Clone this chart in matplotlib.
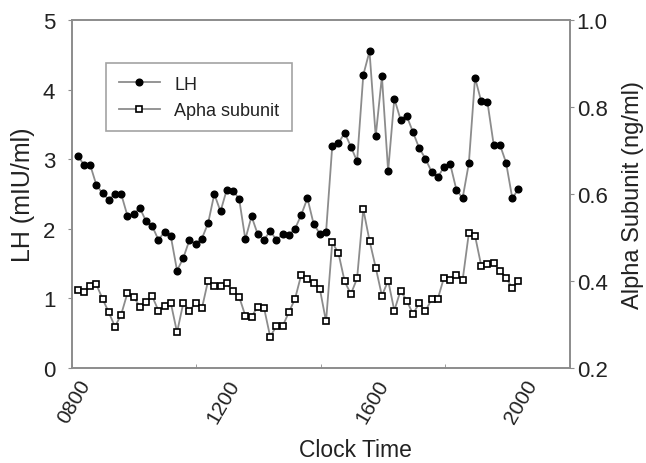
import numpy as np
import matplotlib
matplotlib.use("Agg")
import matplotlib.pyplot as plt

plt.rcParams["font.family"] = ["Liberation Sans", "DejaVu Sans"]

# samples every 10 min starting 0800
n_samples = 72
start_hour = 8.0
step_min = 10

lh = [3.05, 2.92, 2.92, 2.63, 2.51, 2.42, 2.50, 2.50, 2.19, 2.21,
      2.30, 2.11, 2.04, 1.84, 1.96, 1.89, 1.40, 1.58, 1.84, 1.78,
      1.86, 2.08, 2.50, 2.25, 2.56, 2.55, 2.43, 1.85, 2.18, 1.92,
      1.84, 1.97, 1.84, 1.92, 1.91, 2.00, 2.20, 2.44, 2.07, 1.93,
      1.95, 3.19, 3.23, 3.38, 3.18, 2.97, 4.21, 4.55, 3.33, 4.19,
      2.83, 3.87, 3.57, 3.62, 3.39, 3.16, 3.01, 2.82, 2.74, 2.89,
      2.93, 2.56, 2.44, 2.94, 4.17, 3.83, 3.82, 3.21, 3.21, 2.95,
      2.44, 2.57]

alpha = [0.379, 0.374, 0.388, 0.392, 0.359, 0.328, 0.295, 0.323, 0.372, 0.364,
         0.341, 0.351, 0.365, 0.332, 0.343, 0.349, 0.282, 0.349, 0.332, 0.349,
         0.337, 0.401, 0.388, 0.389, 0.395, 0.376, 0.364, 0.320, 0.318, 0.341,
         0.339, 0.272, 0.296, 0.296, 0.328, 0.359, 0.414, 0.405, 0.395, 0.382,
         0.307, 0.489, 0.464, 0.399, 0.370, 0.406, 0.565, 0.493, 0.431, 0.366,
         0.401, 0.332, 0.378, 0.355, 0.324, 0.349, 0.330, 0.359, 0.359, 0.408,
         0.403, 0.414, 0.402, 0.510, 0.504, 0.435, 0.438, 0.441, 0.424, 0.408,
         0.383, 0.401]

tick_hours = [8, 12, 16, 20]
tick_labels = ["0800", "1200", "1600", "2000"]

hours = start_hour + np.arange(n_samples) * step_min / 60.0

grey = "#8c8c8c"
txt = "#222222"

fig = plt.figure(figsize=(6.46, 4.64), dpi=100)
ax = fig.add_axes([0.1115, 0.2047, 0.7705, 0.75])
ax2 = ax.twinx()

ax.plot(hours, lh, "-", color=grey, lw=1.3, marker="o", ms=4.8,
        mfc="black", mec="black", label="LH", zorder=3)
ax2.plot(hours, alpha, "-", color=grey, lw=1.3, marker="s", ms=4.3,
         mfc="white", mec="black", mew=1.2, label="Apha subunit", zorder=3)

xmin, xmax = 7.847, 21.21
ax.set_xlim(xmin, xmax)
ax.set_ylim(0, 5)
ax2.set_ylim(0.2, 1.0)
ax.set_yticks([0, 1, 2, 3, 4, 5])
ax2.set_yticks([0.2, 0.4, 0.6, 0.8, 1.0])
ax2.set_yticklabels(["0.2", "0.4", "0.6", "0.8", "1.0"])

ax.set_xticks(tick_hours)
ax.set_xticklabels(tick_labels, rotation=60, ha="right", rotation_mode="anchor")
ax.set_xticks(np.linspace(xmin, xmax, 5), minor=True)
ax.tick_params(axis="x", which="major", length=0, pad=6, labelsize=15, labelcolor=txt)
ax.tick_params(axis="x", which="minor", direction="in", length=3, color=grey)
ax.tick_params(axis="y", direction="out", length=3, color=grey, labelsize=16,
               labelcolor=txt, pad=9)
ax2.tick_params(axis="y", direction="out", length=3, color=grey, labelsize=16,
                labelcolor=txt, pad=2)

for a in (ax, ax2):
    for s in a.spines.values():
        s.set_color(grey)
        s.set_linewidth(1.2)

ax.set_xlabel("Clock Time", fontsize=16.5, color=txt)
ax.xaxis.set_label_coords(0.57, -0.2)
ax.set_ylabel("LH (mIU/ml)", fontsize=18, color=txt, labelpad=6)
ax2.set_ylabel("Alpha Subunit (ng/ml)", fontsize=17, color=txt, labelpad=10)

h1, l1 = ax.get_legend_handles_labels()
h2, l2 = ax2.get_legend_handles_labels()
leg = ax2.legend(h1 + h2, l1 + l2, loc="upper left", bbox_to_anchor=(0.068, 0.876),
                 borderaxespad=0, fontsize=13, frameon=True, fancybox=False,
                 borderpad=0.7, handlelength=2.3, labelspacing=0.5)
leg.get_frame().set_edgecolor(grey)
leg.get_frame().set_linewidth(1.2)
for t in leg.get_texts():
    t.set_color(txt)

fig.savefig("out.png", dpi=100)
